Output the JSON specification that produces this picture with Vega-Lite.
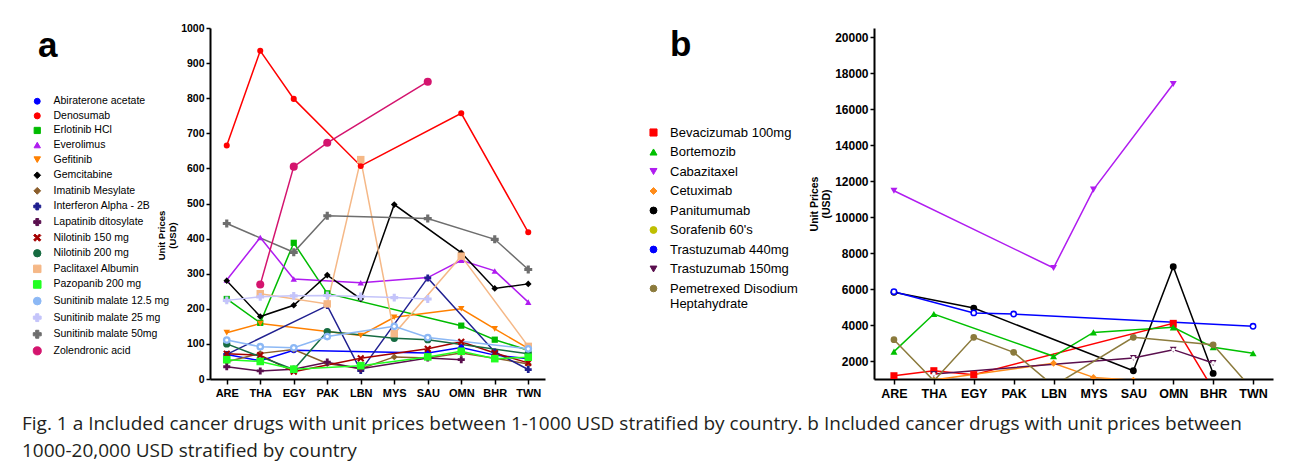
{
  "$schema": "https://vega.github.io/schema/vega-lite/v6.json",
  "background": "white",
  "padding": {"left": 22, "top": 23, "right": 5, "bottom": 5},
  "datasets": {
    "a": [
      {"drug": "Abiraterone acetate", "country": "ARE", "price": 70},
      {"drug": "Abiraterone acetate", "country": "THA", "price": 52},
      {"drug": "Abiraterone acetate", "country": "EGY", "price": 82},
      {"drug": "Abiraterone acetate", "country": "SAU", "price": 74},
      {"drug": "Abiraterone acetate", "country": "OMN", "price": 90},
      {"drug": "Abiraterone acetate", "country": "BHR", "price": 68},
      {"drug": "Abiraterone acetate", "country": "TWN", "price": 58},
      {"drug": "Denosumab", "country": "ARE", "price": 665},
      {"drug": "Denosumab", "country": "THA", "price": 935},
      {"drug": "Denosumab", "country": "EGY", "price": 798},
      {"drug": "Denosumab", "country": "LBN", "price": 607},
      {"drug": "Denosumab", "country": "OMN", "price": 757},
      {"drug": "Denosumab", "country": "TWN", "price": 418},
      {"drug": "Erlotinib HCl", "country": "ARE", "price": 228},
      {"drug": "Erlotinib HCl", "country": "THA", "price": 160},
      {"drug": "Erlotinib HCl", "country": "EGY", "price": 388},
      {"drug": "Erlotinib HCl", "country": "PAK", "price": 244},
      {"drug": "Erlotinib HCl", "country": "OMN", "price": 152},
      {"drug": "Erlotinib HCl", "country": "BHR", "price": 112},
      {"drug": "Erlotinib HCl", "country": "TWN", "price": 82},
      {"drug": "Everolimus", "country": "ARE", "price": 282},
      {"drug": "Everolimus", "country": "THA", "price": 403},
      {"drug": "Everolimus", "country": "EGY", "price": 285},
      {"drug": "Everolimus", "country": "LBN", "price": 274},
      {"drug": "Everolimus", "country": "SAU", "price": 289},
      {"drug": "Everolimus", "country": "OMN", "price": 338},
      {"drug": "Everolimus", "country": "BHR", "price": 308},
      {"drug": "Everolimus", "country": "TWN", "price": 219},
      {"drug": "Gefitinib", "country": "ARE", "price": 132},
      {"drug": "Gefitinib", "country": "THA", "price": 158},
      {"drug": "Gefitinib", "country": "LBN", "price": 124},
      {"drug": "Gefitinib", "country": "MYS", "price": 176},
      {"drug": "Gefitinib", "country": "OMN", "price": 200},
      {"drug": "Gefitinib", "country": "BHR", "price": 143},
      {"drug": "Gefitinib", "country": "TWN", "price": 87},
      {"drug": "Gemcitabine", "country": "ARE", "price": 280},
      {"drug": "Gemcitabine", "country": "THA", "price": 178},
      {"drug": "Gemcitabine", "country": "EGY", "price": 210},
      {"drug": "Gemcitabine", "country": "PAK", "price": 296},
      {"drug": "Gemcitabine", "country": "LBN", "price": 228},
      {"drug": "Gemcitabine", "country": "MYS", "price": 497},
      {"drug": "Gemcitabine", "country": "OMN", "price": 360},
      {"drug": "Gemcitabine", "country": "BHR", "price": 258},
      {"drug": "Gemcitabine", "country": "TWN", "price": 271},
      {"drug": "Imatinib Mesylate", "country": "ARE", "price": 49},
      {"drug": "Imatinib Mesylate", "country": "THA", "price": 73},
      {"drug": "Imatinib Mesylate", "country": "EGY", "price": 84},
      {"drug": "Imatinib Mesylate", "country": "PAK", "price": 44},
      {"drug": "Imatinib Mesylate", "country": "LBN", "price": 29},
      {"drug": "Imatinib Mesylate", "country": "MYS", "price": 63},
      {"drug": "Imatinib Mesylate", "country": "SAU", "price": 60},
      {"drug": "Imatinib Mesylate", "country": "OMN", "price": 74},
      {"drug": "Imatinib Mesylate", "country": "BHR", "price": 59},
      {"drug": "Imatinib Mesylate", "country": "TWN", "price": 43},
      {"drug": "Interferon Alpha - 2B", "country": "ARE", "price": 70},
      {"drug": "Interferon Alpha - 2B", "country": "PAK", "price": 209},
      {"drug": "Interferon Alpha - 2B", "country": "LBN", "price": 24},
      {"drug": "Interferon Alpha - 2B", "country": "SAU", "price": 288},
      {"drug": "Interferon Alpha - 2B", "country": "BHR", "price": 77},
      {"drug": "Interferon Alpha - 2B", "country": "TWN", "price": 27},
      {"drug": "Lapatinib ditosylate", "country": "ARE", "price": 35},
      {"drug": "Lapatinib ditosylate", "country": "THA", "price": 23},
      {"drug": "Lapatinib ditosylate", "country": "EGY", "price": 28},
      {"drug": "Lapatinib ditosylate", "country": "PAK", "price": 48},
      {"drug": "Lapatinib ditosylate", "country": "LBN", "price": 29},
      {"drug": "Lapatinib ditosylate", "country": "SAU", "price": 60},
      {"drug": "Lapatinib ditosylate", "country": "OMN", "price": 55},
      {"drug": "Nilotinib 150 mg", "country": "ARE", "price": 72},
      {"drug": "Nilotinib 150 mg", "country": "THA", "price": 68},
      {"drug": "Nilotinib 150 mg", "country": "EGY", "price": 21},
      {"drug": "Nilotinib 150 mg", "country": "LBN", "price": 59},
      {"drug": "Nilotinib 150 mg", "country": "SAU", "price": 86},
      {"drug": "Nilotinib 150 mg", "country": "OMN", "price": 106},
      {"drug": "Nilotinib 150 mg", "country": "BHR", "price": 74},
      {"drug": "Nilotinib 150 mg", "country": "TWN", "price": 46},
      {"drug": "Nilotinib 200 mg", "country": "ARE", "price": 100},
      {"drug": "Nilotinib 200 mg", "country": "EGY", "price": 27},
      {"drug": "Nilotinib 200 mg", "country": "PAK", "price": 135},
      {"drug": "Nilotinib 200 mg", "country": "MYS", "price": 116},
      {"drug": "Nilotinib 200 mg", "country": "SAU", "price": 112},
      {"drug": "Nilotinib 200 mg", "country": "TWN", "price": 72},
      {"drug": "Paclitaxel Albumin", "country": "THA", "price": 243},
      {"drug": "Paclitaxel Albumin", "country": "PAK", "price": 214},
      {"drug": "Paclitaxel Albumin", "country": "LBN", "price": 625},
      {"drug": "Paclitaxel Albumin", "country": "MYS", "price": 129},
      {"drug": "Paclitaxel Albumin", "country": "OMN", "price": 350},
      {"drug": "Paclitaxel Albumin", "country": "TWN", "price": 93},
      {"drug": "Pazopanib 200 mg", "country": "ARE", "price": 55},
      {"drug": "Pazopanib 200 mg", "country": "THA", "price": 50},
      {"drug": "Pazopanib 200 mg", "country": "EGY", "price": 28},
      {"drug": "Pazopanib 200 mg", "country": "LBN", "price": 38},
      {"drug": "Pazopanib 200 mg", "country": "SAU", "price": 63},
      {"drug": "Pazopanib 200 mg", "country": "OMN", "price": 79},
      {"drug": "Pazopanib 200 mg", "country": "BHR", "price": 58},
      {"drug": "Pazopanib 200 mg", "country": "TWN", "price": 62},
      {"drug": "Sunitinib malate 12.5 mg", "country": "ARE", "price": 111},
      {"drug": "Sunitinib malate 12.5 mg", "country": "THA", "price": 92},
      {"drug": "Sunitinib malate 12.5 mg", "country": "EGY", "price": 89},
      {"drug": "Sunitinib malate 12.5 mg", "country": "PAK", "price": 121},
      {"drug": "Sunitinib malate 12.5 mg", "country": "MYS", "price": 150},
      {"drug": "Sunitinib malate 12.5 mg", "country": "SAU", "price": 118},
      {"drug": "Sunitinib malate 12.5 mg", "country": "TWN", "price": 86},
      {"drug": "Sunitinib malate 25 mg", "country": "ARE", "price": 224},
      {"drug": "Sunitinib malate 25 mg", "country": "THA", "price": 234},
      {"drug": "Sunitinib malate 25 mg", "country": "EGY", "price": 237},
      {"drug": "Sunitinib malate 25 mg", "country": "PAK", "price": 238},
      {"drug": "Sunitinib malate 25 mg", "country": "LBN", "price": 235},
      {"drug": "Sunitinib malate 25 mg", "country": "MYS", "price": 232},
      {"drug": "Sunitinib malate 25 mg", "country": "SAU", "price": 228},
      {"drug": "Sunitinib malate 50mg", "country": "ARE", "price": 443},
      {"drug": "Sunitinib malate 50mg", "country": "EGY", "price": 361},
      {"drug": "Sunitinib malate 50mg", "country": "PAK", "price": 465},
      {"drug": "Sunitinib malate 50mg", "country": "SAU", "price": 457},
      {"drug": "Sunitinib malate 50mg", "country": "BHR", "price": 398},
      {"drug": "Sunitinib malate 50mg", "country": "TWN", "price": 312},
      {"drug": "Zolendronic acid", "country": "THA", "price": 269},
      {"drug": "Zolendronic acid", "country": "EGY", "price": 605},
      {"drug": "Zolendronic acid", "country": "PAK", "price": 673},
      {"drug": "Zolendronic acid", "country": "SAU", "price": 847}
    ],
    "b": [
      {"drug": "Bevacizumab 100mg", "country": "ARE", "price": 1180},
      {"drug": "Bevacizumab 100mg", "country": "THA", "price": 1460},
      {"drug": "Bevacizumab 100mg", "country": "EGY", "price": 1240},
      {"drug": "Bevacizumab 100mg", "country": "OMN", "price": 4090},
      {"drug": "Bevacizumab 100mg", "country": "BHR", "price": 420},
      {"drug": "Bortemozib", "country": "ARE", "price": 2520},
      {"drug": "Bortemozib", "country": "THA", "price": 4610},
      {"drug": "Bortemozib", "country": "LBN", "price": 2260},
      {"drug": "Bortemozib", "country": "MYS", "price": 3590},
      {"drug": "Bortemozib", "country": "OMN", "price": 3870},
      {"drug": "Bortemozib", "country": "BHR", "price": 2760},
      {"drug": "Bortemozib", "country": "TWN", "price": 2430},
      {"drug": "Cabazitaxel", "country": "ARE", "price": 11460},
      {"drug": "Cabazitaxel", "country": "LBN", "price": 7170},
      {"drug": "Cabazitaxel", "country": "MYS", "price": 11520},
      {"drug": "Cabazitaxel", "country": "OMN", "price": 17390},
      {"drug": "Cetuximab", "country": "THA", "price": 950},
      {"drug": "Cetuximab", "country": "LBN", "price": 1870},
      {"drug": "Cetuximab", "country": "MYS", "price": 1090},
      {"drug": "Cetuximab", "country": "SAU", "price": 930},
      {"drug": "Panitumumab", "country": "ARE", "price": 5815},
      {"drug": "Panitumumab", "country": "EGY", "price": 4940},
      {"drug": "Panitumumab", "country": "SAU", "price": 1460},
      {"drug": "Panitumumab", "country": "OMN", "price": 7240},
      {"drug": "Panitumumab", "country": "BHR", "price": 1310},
      {"drug": "Trastuzumab 440mg", "country": "ARE", "price": 5850},
      {"drug": "Trastuzumab 440mg", "country": "EGY", "price": 4670},
      {"drug": "Trastuzumab 440mg", "country": "PAK", "price": 4610},
      {"drug": "Trastuzumab 440mg", "country": "TWN", "price": 3930},
      {"drug": "Trastuzumab 150mg", "country": "THA", "price": 1280},
      {"drug": "Trastuzumab 150mg", "country": "SAU", "price": 2170},
      {"drug": "Trastuzumab 150mg", "country": "OMN", "price": 2630},
      {"drug": "Trastuzumab 150mg", "country": "BHR", "price": 1890},
      {"drug": "Pemetrexed Disodium Heptahydrate", "country": "ARE", "price": 3185},
      {"drug": "Pemetrexed Disodium Heptahydrate", "country": "THA", "price": 900},
      {"drug": "Pemetrexed Disodium Heptahydrate", "country": "EGY", "price": 3315},
      {"drug": "Pemetrexed Disodium Heptahydrate", "country": "PAK", "price": 2480},
      {"drug": "Pemetrexed Disodium Heptahydrate", "country": "LBN", "price": 620},
      {"drug": "Pemetrexed Disodium Heptahydrate", "country": "SAU", "price": 3315},
      {"drug": "Pemetrexed Disodium Heptahydrate", "country": "BHR", "price": 2900},
      {"drug": "Pemetrexed Disodium Heptahydrate", "country": "TWN", "price": 380}
    ]
  },
  "title": {
    "text": ["Fig. 1 a Included cancer drugs with unit prices between 1-1000 USD stratified by country. b Included cancer drugs with unit prices between", "1000-20,000 USD stratified by country"],
    "orient": "bottom",
    "anchor": "start",
    "frame": "bounds",
    "font": "Open Sans",
    "fontSize": 19,
    "fontWeight": "normal",
    "lineHeight": 27,
    "offset": 15,
    "dx": -10,
    "color": "#231f20"
  },
  "spacing": 102,
  "resolve": {
    "scale": {"x": "independent", "y": "independent", "color": "independent", "shape": "independent", "size": "independent"},
    "legend": {"color": "independent", "shape": "independent"}
  },
  "hconcat": [
    {
      "data": {"name": "a"},
      "width": 335,
      "height": 351,
      "title": {"text": "a", "anchor": "start", "frame": "bounds", "orient": "top", "fontSize": 35, "fontWeight": "bold", "font": "Liberation Sans", "color": "#000", "offset": -41, "dx": 6},
      "encoding": {
        "x": {
          "field": "country", "type": "nominal", "sort": null,
          "scale": {"type": "point", "domain": ["ARE", "THA", "EGY", "PAK", "LBN", "MYS", "SAU", "OMN", "BHR", "TWN"], "padding": 0.5},
          "axis": {"title": null, "labelAngle": 0, "labelFontSize": 11, "labelPadding": 3, "tickSize": 5, "tickWidth": 1.5, "domainWidth": 2}
        },
        "y": {
          "field": "price", "type": "quantitative",
          "scale": {"domain": [0, 1000], "nice": false, "zero": false},
          "axis": {"values": [0, 100, 200, 300, 400, 500, 600, 700, 800, 900, 1000], "format": "d", "labelFontSize": 10.5, "tickSize": 4, "tickWidth": 1.5, "domainWidth": 2, "labelPadding": 2, "title": ["Unit Prices", "(USD)"], "titleFontSize": 9.5, "titlePadding": 3, "titleY": 207}
        },
        "color": {
          "field": "drug", "type": "nominal",
          "scale": {
            "domain": ["Abiraterone acetate", "Denosumab", "Erlotinib HCl", "Everolimus", "Gefitinib", "Gemcitabine", "Imatinib Mesylate", "Interferon Alpha - 2B", "Lapatinib ditosylate", "Nilotinib 150 mg", "Nilotinib 200 mg", "Paclitaxel Albumin", "Pazopanib 200 mg", "Sunitinib malate 12.5 mg", "Sunitinib malate 25 mg", "Sunitinib malate 50mg", "Zolendronic acid"],
            "range": ["#0000ff", "#ff0000", "#00bb00", "#b01cf0", "#ff8000", "#000000", "#8b5e2b", "#202090", "#5a0f4e", "#a50000", "#166b41", "#f5b887", "#22ff22", "#8cb8f5", "#c4c4fa", "#6e6e6e", "#d4146e"]
          },
          "legend": {"title": null, "orient": "none", "legendX": -178, "legendY": 68, "labelFontSize": 10.5, "labelLimit": 200, "symbolSize": 50, "rowPadding": 3.6, "labelOffset": 11}
        }
      },
      "layer": [
        {"mark": {"type": "line", "strokeWidth": 1.5}, "encoding": {"order": {"value": null}}},
        {
          "mark": {"type": "point", "filled": true, "opacity": 1},
          "encoding": {
            "shape": {
              "field": "drug", "type": "nominal",
              "scale": {
                "domain": ["Abiraterone acetate", "Denosumab", "Erlotinib HCl", "Everolimus", "Gefitinib", "Gemcitabine", "Imatinib Mesylate", "Interferon Alpha - 2B", "Lapatinib ditosylate", "Nilotinib 150 mg", "Nilotinib 200 mg", "Paclitaxel Albumin", "Pazopanib 200 mg", "Sunitinib malate 12.5 mg", "Sunitinib malate 25 mg", "Sunitinib malate 50mg", "Zolendronic acid"],
                "range": ["circle", "circle", "square", "triangle-up", "triangle-down", "diamond", "diamond", "cross", "cross", "M-1,-0.6L-0.6,-1L0,-0.4L0.6,-1L1,-0.6L0.4,0L1,0.6L0.6,1L0,0.4L-0.6,1L-1,0.6L-0.4,0Z", "circle", "square", "square", "circle", "cross", "cross", "circle"]
              }
            },
            "size": {
              "field": "drug", "type": "nominal", "legend": null,
              "scale": {
                "domain": ["Abiraterone acetate", "Denosumab", "Erlotinib HCl", "Everolimus", "Gefitinib", "Gemcitabine", "Imatinib Mesylate", "Interferon Alpha - 2B", "Lapatinib ditosylate", "Nilotinib 150 mg", "Nilotinib 200 mg", "Paclitaxel Albumin", "Pazopanib 200 mg", "Sunitinib malate 12.5 mg", "Sunitinib malate 25 mg", "Sunitinib malate 50mg", "Zolendronic acid"],
                "range": [35, 65, 65, 45, 45, 35, 30, 20, 20, 40, 55, 60, 55, 40, 20, 25, 60]
              }
            }
          }
        },
        {
          "transform": [{"filter": {"field": "drug", "oneOf": ["Sunitinib malate 12.5 mg"]}}],
          "mark": {"type": "point", "filled": true, "opacity": 1},
          "encoding": {
            "color": {"value": "white"},
            "size": {"value": 10}
          }
        }
      ]
    },
    {
      "data": {"name": "b"},
      "width": 399,
      "height": 351,
      "title": {"text": "b", "anchor": "start", "frame": "bounds", "orient": "top", "fontSize": 35, "fontWeight": "bold", "font": "Liberation Sans", "color": "#000", "offset": -35, "dx": 23},
      "encoding": {
        "x": {
          "field": "country", "type": "nominal", "sort": null,
          "scale": {"type": "point", "domain": ["ARE", "THA", "EGY", "PAK", "LBN", "MYS", "SAU", "OMN", "BHR", "TWN"], "padding": 0.5},
          "axis": {"title": null, "labelAngle": 0, "labelFontSize": 12.5, "labelPadding": 3, "tickSize": 5, "tickWidth": 1.5, "domainWidth": 2}
        },
        "y": {
          "field": "price", "type": "quantitative",
          "scale": {"domain": [1000, 20500], "nice": false, "zero": false},
          "axis": {"values": [2000, 4000, 6000, 8000, 10000, 12000, 14000, 16000, 18000, 20000], "format": "d", "labelFontSize": 12, "tickSize": 4, "tickWidth": 1.5, "domainWidth": 2, "labelPadding": 2, "title": ["Unit Prices", "(USD)"], "titleFontSize": 10.5, "titlePadding": 3}
        },
        "color": {
          "field": "drug", "type": "nominal",
          "scale": {
            "domain": ["Bevacizumab 100mg", "Bortemozib", "Cabazitaxel", "Cetuximab", "Panitumumab", "Sorafenib 60's", "Trastuzumab 440mg", "Trastuzumab 150mg", "Pemetrexed Disodium Heptahydrate"],
            "range": ["#ff0000", "#00c000", "#b01cf0", "#ff8c1a", "#000000", "#bfbf00", "#0000ff", "#5a0f4e", "#8b7a3c"]
          },
          "legend": {"title": null, "orient": "none", "legendX": -227, "legendY": 98, "labelFontSize": 13, "labelLimit": 300, "symbolSize": 55, "rowPadding": 5.5, "labelOffset": 10, "labelExpr": "datum.label == 'Pemetrexed Disodium Heptahydrate' ? ['Pemetrexed Disodium', 'Heptahydrate'] : datum.label"}
        }
      },
      "layer": [
        {"mark": {"type": "line", "strokeWidth": 1.5, "clip": true}, "encoding": {"order": {"value": null}}},
        {
          "mark": {"type": "point", "filled": true, "opacity": 1, "clip": true},
          "encoding": {
            "shape": {
              "field": "drug", "type": "nominal",
              "scale": {
                "domain": ["Bevacizumab 100mg", "Bortemozib", "Cabazitaxel", "Cetuximab", "Panitumumab", "Sorafenib 60's", "Trastuzumab 440mg", "Trastuzumab 150mg", "Pemetrexed Disodium Heptahydrate"],
                "range": ["square", "triangle-up", "triangle-down", "diamond", "circle", "circle", "circle", "triangle-down", "circle"]
              }
            },
            "size": {
              "field": "drug", "type": "nominal", "legend": null,
              "scale": {
                "domain": ["Bevacizumab 100mg", "Bortemozib", "Cabazitaxel", "Cetuximab", "Panitumumab", "Sorafenib 60's", "Trastuzumab 440mg", "Trastuzumab 150mg", "Pemetrexed Disodium Heptahydrate"],
                "range": [50, 45, 40, 25, 115, 40, 40, 60, 75]
              }
            }
          }
        },
        {
          "transform": [{"filter": {"field": "drug", "oneOf": ["Trastuzumab 440mg", "Trastuzumab 150mg"]}}],
          "mark": {"type": "point", "filled": true, "opacity": 1, "clip": true},
          "encoding": {
            "color": {"value": "white"},
            "size": {"value": 14}
          }
        }
      ]
    }
  ],
  "config": {
    "font": "Liberation Sans",
    "view": {"stroke": null},
    "axis": {"grid": false, "domainColor": "#000", "tickColor": "#000", "labelColor": "#000", "titleColor": "#000", "labelFont": "Liberation Sans", "labelFontWeight": "bold", "titleFont": "Liberation Sans", "titleFontWeight": "bold"},
    "legend": {"labelFont": "Liberation Sans", "titleFont": "Liberation Sans", "labelColor": "#000", "padding": 0, "symbolStrokeWidth": 1}
  }
}
